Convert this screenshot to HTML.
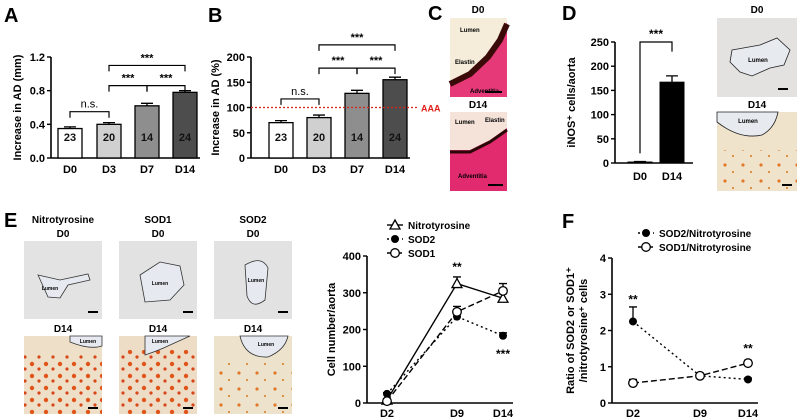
<!DOCTYPE html>
<html><head><meta charset="utf-8"><style>
body{margin:0;background:#fff}
svg{display:block;font-family:"Liberation Sans",Arial,sans-serif;font-weight:bold}
</style></head><body>
<svg id="fig" width="798" height="420" viewBox="0 0 798 420" xmlns="http://www.w3.org/2000/svg">
<defs>
<pattern id="dotsR" width="14" height="12" patternUnits="userSpaceOnUse"><circle cx="4" cy="4" r="2.2" fill="#e0541a"/><circle cx="11" cy="9" r="1.6" fill="#d9461a"/></pattern>
<pattern id="dotsL" width="18" height="16" patternUnits="userSpaceOnUse"><circle cx="5" cy="5" r="1.6" fill="#e07a2a"/><circle cx="13" cy="12" r="1.1" fill="#d98a3a"/></pattern>
</defs>
<g id="labels" font-size="20">
<text x="4" y="22">A</text>
<text x="208" y="22">B</text>
<text x="428" y="20">C</text>
<text x="562" y="20">D</text>
<text x="4" y="227">E</text>
<text x="562" y="228">F</text>
</g>
<g id="gA"></g><g id="gB"></g><g id="gD"></g><g id="gE"></g><g id="gF"></g>

<g font-size="7">
<text x="478" y="13" text-anchor="middle" font-size="10">D0</text>
<rect x="450" y="18" width="57" height="79" fill="#f5ecd9"/>
<polygon points="450,82 470,72 488,55 500,38 507,22 507,97 450,97" fill="#e63a78"/>
<polyline points="450,84 470,74 488,57 500,40 507,24" fill="none" stroke="#3a0a08" stroke-width="6"/>
<text x="460" y="32" font-size="6">Lumen</text><text x="455" y="64" font-size="6">Elastin</text><text x="470" y="93" font-size="6">Adventitia</text>
<line x1="485" y1="92" x2="502" y2="92" stroke="#000" stroke-width="2"/>
<text x="478" y="108" text-anchor="middle" font-size="10">D14</text>
<rect x="450" y="112" width="57" height="79" fill="#f5e3da"/>
<polygon points="450,150 470,150 490,140 507,128 507,191 450,191" fill="#e22a6e"/>
<polyline points="450,152 470,152 490,142 507,130" fill="none" stroke="#2a0808" stroke-width="3"/>
<text x="455" y="124" font-size="6">Lumen</text><text x="485" y="122" font-size="6">Elastin</text><text x="458" y="178" font-size="6">Adventitia</text>
<line x1="488" y1="185" x2="503" y2="185" stroke="#000" stroke-width="2"/>
</g>

<g>
<text x="757" y="13" text-anchor="middle" font-size="10">D0</text>
<rect x="717" y="18" width="80" height="79" fill="#e4e2e0"/>
<path d="M732,50 L760,45 L777,38 L790,50 L784,65 L770,68 L752,76 L740,72 L730,62 Z" fill="#e7ebf0" stroke="#222" stroke-width="0.8"/>
<text x="758" y="62" font-size="6" text-anchor="middle">Lumen</text>
<line x1="778" y1="89" x2="788" y2="89" stroke="#000" stroke-width="2"/>
<text x="757" y="108" text-anchor="middle" font-size="10">D14</text>
<rect x="717" y="112" width="80" height="79" fill="#f0e3cc"/>
<rect x="717" y="150" width="80" height="41" fill="url(#dotsL)"/>
<path d="M717,112 L717,122 Q740,140 762,135 Q775,128 778,112 Z" fill="#e7ebf0" stroke="#222" stroke-width="0.8"/>
<text x="748" y="123" font-size="6" text-anchor="middle">Lumen</text>
<line x1="782" y1="185" x2="792" y2="185" stroke="#000" stroke-width="2"/>
</g>

<g font-size="10" text-anchor="middle">
<text x="63" y="223">Nitrotyrosine</text><text x="158" y="223">SOD1</text><text x="253" y="223">SOD2</text>
<text x="63" y="237">D0</text><text x="158" y="237">D0</text><text x="253" y="237">D0</text>
<text x="63" y="332">D14</text><text x="158" y="332">D14</text><text x="253" y="332">D14</text>
<rect x="24" y="241" width="78" height="78" fill="#e3e3e3"/>
<path d="M38,275 L60,280 L88,274 L90,280 L68,285 L60,298 L48,297 Z" fill="#e6eaf0" stroke="#333" stroke-width="0.8"/>
<rect x="119" y="241" width="78" height="78" fill="#e3e2e2"/>
<path d="M140,275 L160,262 L180,266 L184,285 L170,300 L145,302 Z" fill="#e6eaf0" stroke="#333" stroke-width="0.8"/>
<rect x="214" y="241" width="78" height="78" fill="#e3e2e2"/>
<path d="M245,265 Q262,255 268,268 L265,300 Q252,310 247,296 Z" fill="#e6eaf0" stroke="#333" stroke-width="0.8"/>
<rect x="24" y="336" width="78" height="78" fill="#eee0c8"/><rect x="24" y="355" width="78" height="59" fill="url(#dotsR)"/>
<path d="M70,336 L70,342 Q90,350 102,346 L102,336 Z" fill="#e6eaf0" stroke="#333" stroke-width="0.8"/>
<rect x="119" y="336" width="78" height="78" fill="#eddcc6"/><rect x="119" y="350" width="78" height="64" fill="url(#dotsR)"/>
<path d="M145,336 L145,355 Q160,350 170,345 L190,336 Z" fill="#e6eaf0" stroke="#333" stroke-width="0.8"/>
<rect x="214" y="336" width="78" height="78" fill="#ede2cc"/><rect x="214" y="360" width="78" height="54" fill="url(#dotsL)"/>
<path d="M240,336 Q245,358 268,357 Q285,350 288,336 Z" fill="#e6eaf0" stroke="#333" stroke-width="0.8"/>
<g font-size="5"><text x="50" y="290">Lumen</text><text x="160" y="285">Lumen</text><text x="256" y="282">Lumen</text><text x="88" y="343">Lumen</text><text x="160" y="343">Lumen</text><text x="266" y="346">Lumen</text></g>
<g stroke="#000" stroke-width="2"><line x1="88" y1="312" x2="98" y2="312"/><line x1="183" y1="312" x2="193" y2="312"/><line x1="278" y1="312" x2="288" y2="312"/><line x1="88" y1="408" x2="98" y2="408"/><line x1="183" y1="408" x2="193" y2="408"/><line x1="278" y1="408" x2="288" y2="408"/></g>
</g>

<script>
const NS='http://www.w3.org/2000/svg';
const barCats=['D0','D3','D7','D14'];
const aValues=[0.35,0.40,0.62,0.78];
const aErrors=[0.02,0.02,0.03,0.02];
const aTicks=[0,0.4,0.8,1.2];
const nLabels=['23','20','14','24'];
const bValues=[70,80,128,155];
const bErrors=[4,5,6,5];
const bTicks=[0,50,100,150,200];
const dCats=['D0','D14'];
const dValues=[2,167];
const dErrors=[1,13];
const dTicks=[0,50,100,150,200,250];
const eCats=['D2','D9','D14'];
const eNitro=[8,325,285];
const eNitroErr=[3,18,12];
const eSod2=[25,235,183];
const eSod2Err=[3,10,8];
const eSod1=[5,248,305];
const eSod1Err=[3,15,20];
const eTicks=[0,100,200,300,400];
const fCats=['D2','D9','D14'];
const fSod2=[2.25,0.75,0.65];
const fSod2Err=[0.4,0.05,0.04];
const fSod1=[0.55,0.75,1.1];
const fSod1Err=[0.1,0.04,0.08];
const fTicks=[0,1,2,3,4];

function el(tag,attrs,parent,text){const e=document.createElementNS(NS,tag);for(const k in attrs)e.setAttribute(k,attrs[k]);if(text!==undefined)e.textContent=text;parent.appendChild(e);return e;}
function lin(d0,d1,r0,r1){return v=>r0+(v-d0)/(d1-d0)*(r1-r0);}

function yAxis(g,x,y,ticks,fmt,xEnd,title,tx){
  const a=el('line',{x1:x,y1:y(ticks[ticks.length-1]),x2:x,y2:y(ticks[0]),stroke:'#000','stroke-width':1.6},g);
  
  
  const b=el('line',{x1:x,y1:y(ticks[0]),x2:xEnd,y2:y(ticks[0]),stroke:'#000','stroke-width':1.6},g);
  
  
  ticks.forEach(t=>{
    el('line',{x1:x-4,y1:y(t),x2:x,y2:y(t),stroke:'#000','stroke-width':1.4},g);
    const l=el('text',{x:x-6,y:y(t)+4,'font-size':11,'text-anchor':'end'},g,fmt(t));
    
    
  });
  title.forEach((tt,i)=>{
    const cy=(y(ticks[0])+y(ticks[ticks.length-1]))/2;
    const t=el('text',{x:tx[i],y:cy,'font-size':11,'text-anchor':'middle',transform:`rotate(-90 ${tx[i]} ${cy})`},g,tt);
    
    
  });
}
function xLabel(g,x,y,s){const t=el('text',{x:x,y:y,'font-size':11,'text-anchor':'middle'},g,s);
  
  }
function bracket(g,x1,x2,y,d1,d2,lab,fs){
  el('path',{d:`M${x1},${y+d1}V${y}H${x2}V${y+d2}`,fill:'none',stroke:'#000','stroke-width':1.2},g);
  const t=el('text',{x:(x1+x2)/2,y:y-4,'font-size':fs||11,'text-anchor':'middle','font-weight':lab==='n.s.'?'normal':'bold'},g,lab);
  
  
}
function errBar(g,x,yTop,yBase,w){el('path',{d:`M${x},${yBase}V${yTop}M${x-w},${yTop}H${x+w}`,stroke:'#000','stroke-width':1.3,fill:'none'},g);}

(function(){
  const g=document.getElementById('gA');
  const y=lin(0,1.2,158,57);
  const xs=[70,109,147,185];const fills=['#fff','#d0d0d0','#8e8e8e','#4d4d4d'];
  yAxis(g,51,y,aTicks,t=>t.toFixed(1),200,['Increase in AD (mm)'],[21]);
  barCats.forEach((c,i)=>{
    errBar(g,xs[i],y(aValues[i]+aErrors[i]),y(aValues[i]),6);
    const r=el('rect',{x:xs[i]-12,y:y(aValues[i]),width:24,height:y(0)-y(aValues[i]),fill:fills[i],stroke:'#000','stroke-width':1.3},g);
    
    
    el('text',{x:xs[i],y:141,'font-size':11,'text-anchor':'middle',fill:'#111'},g,nLabels[i]);
    xLabel(g,xs[i],173,c);
  });
  bracket(g,xs[0],xs[1],y(0.55),6,6,'n.s.');
  bracket(g,xs[1],xs[2],y(0.86),6,6,'***');
  bracket(g,xs[2],xs[3],y(0.86),6,6,'***');
  bracket(g,xs[1],xs[3],y(1.1),6,6,'***');
})();
(function(){
  const g=document.getElementById('gB');
  const y=lin(0,200,158,57);
  const xs=[281,319,357,395];const fills=['#fff','#d0d0d0','#8e8e8e','#4d4d4d'];
  yAxis(g,251,y,bTicks,t=>String(t),410,['Increase in AD (%)'],[219]);
  barCats.forEach((c,i)=>{
    errBar(g,xs[i],y(bValues[i]+bErrors[i]),y(bValues[i]),6);
    const r=el('rect',{x:xs[i]-12,y:y(bValues[i]),width:24,height:y(0)-y(bValues[i]),fill:fills[i],stroke:'#000','stroke-width':1.3},g);
    
    
    el('text',{x:xs[i],y:141,'font-size':11,'text-anchor':'middle',fill:'#111'},g,nLabels[i]);
    xLabel(g,xs[i],173,c);
  });
  const rl=el('line',{x1:251,y1:y(100),x2:418,y2:y(100),stroke:'#e0201a','stroke-width':1.2,'stroke-dasharray':'2,2'},g);
  
  
  const at=el('text',{x:421,y:y(100)+4,'font-size':9,fill:'#e0201a'},g,'AAA');
  
  
  bracket(g,xs[0],xs[1],y(117),6,6,'n.s.');
  bracket(g,xs[1],xs[2],y(178),6,6,'***');
  bracket(g,xs[2],xs[3],y(178),6,6,'***');
  bracket(g,xs[1],xs[3],y(224),6,6,'***');
})();
(function(){
  const g=document.getElementById('gD');
  const y=lin(0,250,163,42);
  const xs=[640,672];
  yAxis(g,615,y,dTicks,t=>String(t),693,['iNOS\u207A cells/aorta'],[575]);
  dCats.forEach((c,i)=>{
    errBar(g,xs[i],y(dValues[i]+dErrors[i]),y(dValues[i]),6);
    const r=el('rect',{x:xs[i]-12,y:y(dValues[i]),width:24,height:Math.max(1,y(0)-y(dValues[i])),fill:'#000',stroke:'#000'},g);
    
    
    xLabel(g,xs[i],180,c);
  });
  el('path',{d:`M${xs[0]},${y(20)}V${y(250)}H${xs[1]}V${y(230)}`,fill:'none',stroke:'#000','stroke-width':1.2},g);
  el('text',{x:656,y:y(250)-4,'font-size':12,'text-anchor':'middle'},g,'***');
})();
function marker(g,type,x,y){
  if(type==='tri')return el('path',{d:`M${x},${y-5}L${x+5},${y+4}L${x-5},${y+4}Z`,fill:'#fff',stroke:'#000','stroke-width':1.3},g);
  if(type==='fill')return el('circle',{cx:x,cy:y,r:4,fill:'#000'},g);
  return el('circle',{cx:x,cy:y,r:4.3,fill:'#fff',stroke:'#000','stroke-width':1.3},g);
}
function series(g,xs,vals,errs,y,type,dash,name){
  const pts=vals.map((v,i)=>xs[i]+','+y(v)).join(' ');
  const l=el('polyline',{points:pts,fill:'none',stroke:'#000','stroke-width':1.4,'stroke-dasharray':dash},g);
  
  
  vals.forEach((v,i)=>{errBar(g,xs[i],y(v+errs[i]),y(v),4);
    const m=marker(g,type,xs[i],y(v));
    
    });
}
function legend(g,x,y,type,dash,label){
  el('line',{x1:x-8,y1:y,x2:x+8,y2:y,stroke:'#000','stroke-width':1.4,'stroke-dasharray':dash},g);
  marker(g,type,x,y);
  const t=el('text',{x:x+13,y:y+4,'font-size':10},g,label);
  
  
}
(function(){
  const g=document.getElementById('gE');
  const y=lin(0,400,403,256);
  const xs=[387,457,503];
  yAxis(g,367,y,eTicks,t=>String(t),513,['Cell number/aorta'],[335]);
  eCats.forEach((c,i)=>xLabel(g,xs[i],417,c));
  series(g,xs,eNitro,eNitroErr,y,'tri','','nitrotyrosine');
  series(g,xs,eSod2,eSod2Err,y,'fill','2,3','sod2');
  series(g,xs,eSod1,eSod1Err,y,'open','6,3','sod1');
  legend(g,395,225,'tri','','Nitrotyrosine');
  legend(g,395,239,'fill','2,3','SOD2');
  legend(g,395,253,'open','6,3','SOD1');
  el('text',{x:457,y:271,'font-size':12,'text-anchor':'middle'},g,'**');
  el('text',{x:503,y:358,'font-size':12,'text-anchor':'middle'},g,'***');
})();
(function(){
  const g=document.getElementById('gF');
  const y=lin(0,4,403,258);
  const xs=[633,700,748];
  yAxis(g,612,y,fTicks,t=>String(t),758,['Ratio of SOD2 or SOD1\u207A','/nitrotyrosine\u207A cells'],[574,587]);
  fCats.forEach((c,i)=>xLabel(g,xs[i],417,c));
  series(g,xs,fSod2,fSod2Err,y,'fill','2,3','sod2-nitrotyrosine');
  series(g,xs,fSod1,fSod1Err,y,'open','6,3','sod1-nitrotyrosine');
  legend(g,646,233,'fill','2,3','SOD2/Nitrotyrosine');
  legend(g,646,247,'open','6,3','SOD1/Nitrotyrosine');
  el('text',{x:633,y:y(2.85)+4,'font-size':12,'text-anchor':'middle'},g,'**');
  el('text',{x:748,y:y(1.5)+4,'font-size':12,'text-anchor':'middle'},g,'**');
})();
</script>
</svg>
</body></html>
